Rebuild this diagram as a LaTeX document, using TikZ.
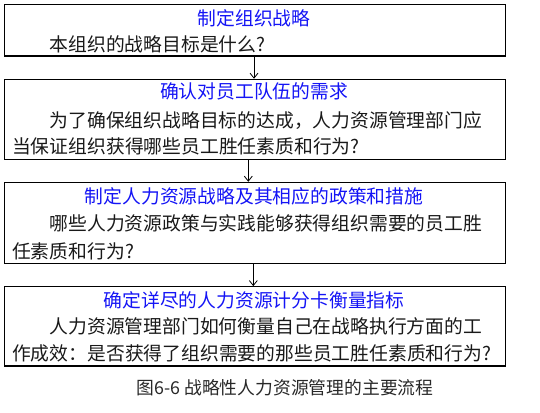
\documentclass[tikz,border=0pt]{standalone}
\usepackage{fontspec}
\setmainfont{Noto Sans CJK SC}
\usetikzlibrary{arrows.meta}
\definecolor{titleblue}{RGB}{20,20,245}
\definecolor{bodytext}{RGB}{25,25,25}
\definecolor{captext}{RGB}{40,40,40}
\begin{document}
\begin{tikzpicture}[x=1bp,y=-1bp,
  box/.style={draw=black, line width=1.1bp, minimum width=500.8bp, inner sep=0pt},
  ttl/.style={text=titleblue, font=\fontsize{18.8bp}{27bp}\selectfont, anchor=base, inner sep=0pt},
  body/.style={text=bodytext, font=\fontsize{18.8bp}{27bp}\selectfont, anchor=base west, inner sep=0pt},
  captiontext/.style={text=captext, font=\fontsize{17.8bp}{24bp}\selectfont, anchor=base, inner sep=0pt},
  conn/.style={-{Straight Barb[length=5bp,width=8bp]}, line width=0.8bp}]
\useasboundingbox (0,0) rectangle (540,412);
% boxes
\node[box, minimum height=51.7bp] (b1) at (254.9,30.15) {};
\node[box, minimum height=80bp]   (b2) at (254.9,119.3) {};
\node[box, minimum height=81bp]   (b3) at (254.9,222.8) {};
\node[box, minimum height=79.3bp] (b4) at (254.9,326.35) {};
% box 1
\node[ttl]  (t1)  at (254,25.4) {制定组织战略};
\node[body] (l11) at (49.5,51.1) {本组织的战略目标是什么?};
% box 2
\node[ttl]  (t2)  at (254,98.8) {确认对员工队伍的需求};
\node[body] (l21) at (49.5,127.1) {为了确保组织战略目标的达成，人力资源管理部门应};
\node[body] (l22) at (12,153.8) {当保证组织获得哪些员工胜任素质和行为?};
% box 3
\node[ttl]  (t3)  at (254,203.8) {制定人力资源战略及其相应的政策和措施};
\node[body] (l31) at (49.5,230.4) {哪些人力资源政策与实践能够获得组织需要的员工胜};
\node[body] (l32) at (12,258.1) {任素质和行为?};
% box 4
\node[ttl]  (t4)  at (254,307.1) {确定详尽的人力资源计分卡衡量指标};
\node[body] (l41) at (49.5,333.8) {人力资源管理部门如何衡量自己在战略执行方面的工};
\node[body] (l42) at (12,360.4) {作成效：是否获得了组织需要的那些员工胜任素质和行为?};
% caption
\node[captiontext] (caption) at (285,394.8) {图6-6 战略性人力资源管理的主要流程};
% connectors
\draw[conn] ([xshift=-0.9bp]b1.south) -- ([xshift=-0.9bp]b2.north);
\draw[conn] ([xshift=-6.6bp]b2.south) -- ([xshift=-6.6bp]b3.north);
\draw[conn] ([xshift=-1.6bp]b3.south) -- ([xshift=-1.6bp]b4.north);
\end{tikzpicture}
\end{document}
